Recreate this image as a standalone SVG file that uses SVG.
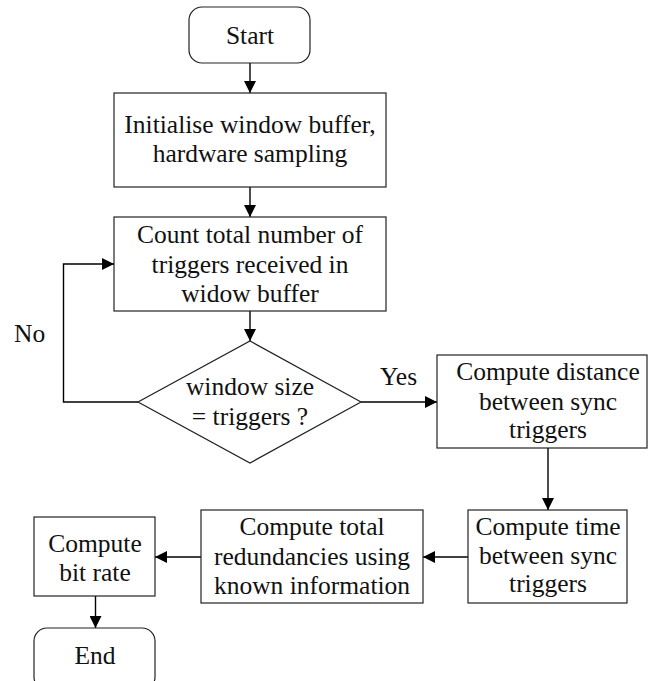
<svg xmlns="http://www.w3.org/2000/svg" width="648" height="681" viewBox="0 0 648 681">
  <style>
    .box { fill: #fff; stroke: #222; stroke-width: 1.2; }
    .wire { fill: none; stroke: #000; stroke-width: 1.4; }
    text { font-family: 'Liberation Serif', 'Times New Roman', Tinos, 'DejaVu Serif', serif; font-size: 25.5px; fill: #111; text-anchor: middle; }
    .lbl { text-anchor: start; }
  </style>
  <defs>
    <marker id="arrow" viewBox="0 0 12 12" refX="12" refY="6" markerWidth="12" markerHeight="12" markerUnits="userSpaceOnUse" orient="auto">
      <path d="M0,0 L12,6 L0,12 Z" fill="#000"/>
    </marker>
  </defs>

  <rect width="648" height="681" fill="#fff"/>

  <g font-family="Liberation Serif, Times New Roman, serif">
  <!-- connectors -->
  <g id="connectors">
    <line class="wire" x1="250" y1="63" x2="250" y2="93" marker-end="url(#arrow)"/>
    <line class="wire" x1="250" y1="187" x2="250" y2="217" marker-end="url(#arrow)"/>
    <line class="wire" x1="250" y1="311" x2="250" y2="341" marker-end="url(#arrow)"/>
    <polyline class="wire" points="138,402 63.5,402 63.5,264 114,264" marker-end="url(#arrow)"/>
    <line class="wire" x1="361" y1="402" x2="437" y2="402" marker-end="url(#arrow)"/>
    <line class="wire" x1="548" y1="448" x2="548" y2="510" marker-end="url(#arrow)"/>
    <line class="wire" x1="468" y1="557" x2="423" y2="557" marker-end="url(#arrow)"/>
    <line class="wire" x1="201" y1="557" x2="155" y2="557" marker-end="url(#arrow)"/>
    <line class="wire" x1="95.5" y1="596" x2="95.5" y2="628" marker-end="url(#arrow)"/>
    <text class="lbl" x="14" y="342">No</text>
    <text class="lbl" x="380" y="385">Yes</text>
  </g>

  <g id="start">
    <rect class="box" x="189" y="7" width="121" height="56" rx="13"/>
    <text x="250" y="44">Start</text>
  </g>

  <g id="init">
    <rect class="box" x="114" y="93" width="272" height="94"/>
    <text x="250" y="133">Initialise window buffer,</text>
    <text x="250" y="161.5">hardware sampling</text>
  </g>

  <g id="count">
    <rect class="box" x="114" y="217" width="272" height="94"/>
    <text x="250" y="243">Count total number of</text>
    <text x="250" y="272.5">triggers received in</text>
    <text x="250" y="301.5">widow buffer</text>
  </g>

  <g id="decision">
    <polygon class="box" points="250,341 361,402 250,463 138,402"/>
    <text x="250" y="395">window size</text>
    <text x="250" y="425">= triggers ?</text>
  </g>

  <g id="distance">
    <rect class="box" x="437" y="355" width="210" height="93"/>
    <text x="548" y="380">Compute distance</text>
    <text x="548" y="410">between sync</text>
    <text x="548" y="438">triggers</text>
  </g>

  <g id="time">
    <rect class="box" x="468" y="510" width="159" height="93"/>
    <text x="548" y="535">Compute time</text>
    <text x="548" y="564">between sync</text>
    <text x="548" y="592">triggers</text>
  </g>

  <g id="redundancies">
    <rect class="box" x="201" y="510" width="222" height="93"/>
    <text x="312" y="535">Compute total</text>
    <text x="312" y="564.5">redundancies using</text>
    <text x="312" y="594">known information</text>
  </g>

  <g id="bitrate">
    <rect class="box" x="34" y="517" width="121" height="79"/>
    <text x="95" y="551.5">Compute</text>
    <text x="95" y="581">bit rate</text>
  </g>

  <g id="end">
    <rect class="box" x="34" y="628" width="121" height="62" rx="13"/>
    <text x="95" y="664">End</text>
  </g>
  </g>
</svg>
